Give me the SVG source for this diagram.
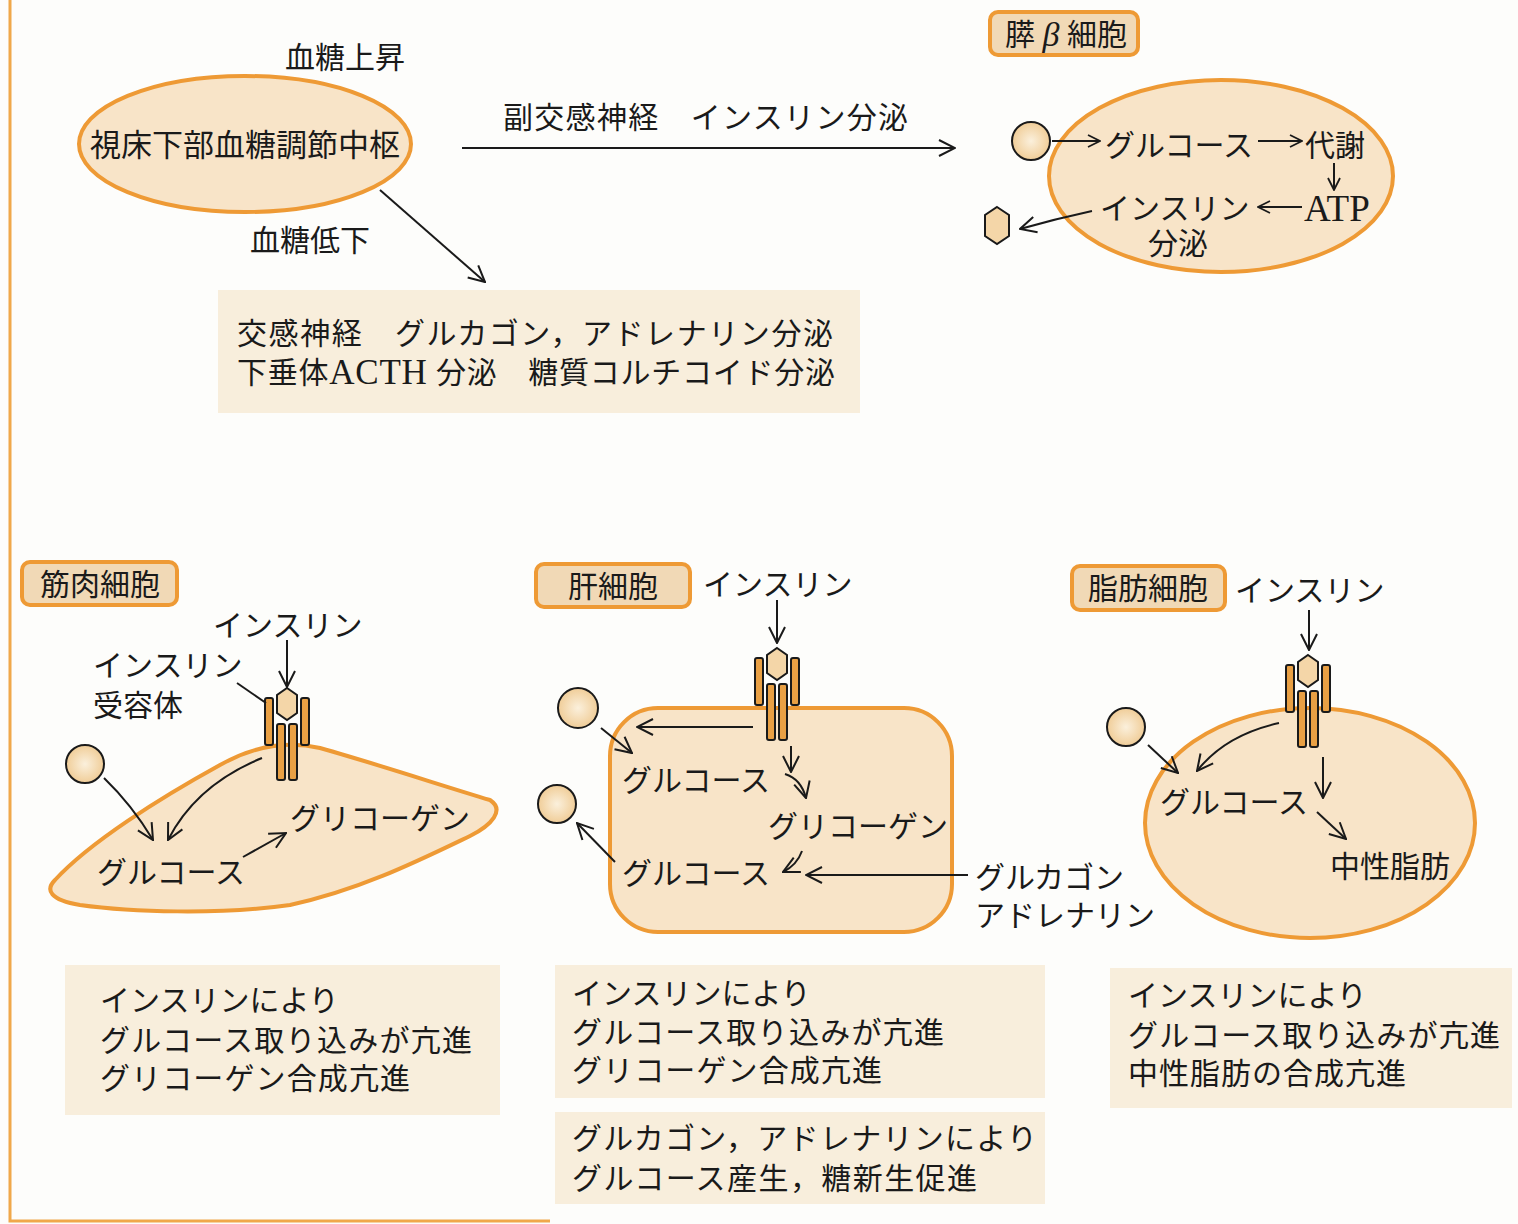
<svg xmlns="http://www.w3.org/2000/svg" width="1518" height="1224" viewBox="0 0 1518 1224">
  <defs>
    <style>
      .t { font-family: "Liberation Serif", "Noto Sans CJK JP", serif; font-size: 30px; fill: #1a1a1a; dominant-baseline: central; }
      .tm { text-anchor: middle; }
      .cell { fill: #F8E4C8; stroke: #EE9A35; stroke-width: 4; }
      .tag { fill: #F1D9B6; stroke: #EE9A35; stroke-width: 4; }
      .note { fill: #F8EEDC; }
      .ln { fill: none; stroke: #1a1a1a; stroke-width: 2; }
      .arr { fill: none; stroke: #1a1a1a; stroke-width: 2; marker-end: url(#ah); }
      .arrs { fill: none; stroke: #1a1a1a; stroke-width: 2; marker-end: url(#ahs); }
      .glc { fill: url(#gl); stroke: #1a1a1a; stroke-width: 2; }
      .ins { fill: #F4D6A8; stroke: #1a1a1a; stroke-width: 2; }
      .bar { fill: #E9A044; stroke: #1a1a1a; stroke-width: 2; }
    </style>
    <radialGradient id="gl" cx="0.5" cy="0.5" r="0.5">
      <stop offset="0" stop-color="#FBF0DC"/>
      <stop offset="1" stop-color="#F0CD98"/>
    </radialGradient>
    <marker id="ah" viewBox="0 0 20 20" refX="19" refY="10" markerWidth="20" markerHeight="20" markerUnits="userSpaceOnUse" orient="auto">
      <path d="M3,2 L19,10 L3,18" fill="none" stroke="#1a1a1a" stroke-width="2"/>
    </marker>
    <marker id="ahs" viewBox="0 0 20 20" refX="19" refY="10" markerWidth="15" markerHeight="15" markerUnits="userSpaceOnUse" orient="auto">
      <path d="M3,2 L19,10 L3,18" fill="none" stroke="#1a1a1a" stroke-width="2.4"/>
    </marker>
    <!-- insulin receptor: hexagon ligand between two outer chains, two inner chains through the membrane -->
    <g id="receptor">
      <rect class="bar" x="-22" y="10" width="8" height="47" rx="2"/>
      <rect class="bar" x="14" y="10" width="8" height="47" rx="2"/>
      <rect class="bar" x="-10" y="36" width="8" height="56" rx="2"/>
      <rect class="bar" x="2" y="36" width="8" height="56" rx="2"/>
      <polygon class="ins" points="0,0 10,7 10,25 0,32 -10,25 -10,7"/>
    </g>
  </defs>

  <rect x="0" y="0" width="1518" height="1224" fill="#FDFDFB"/>
  <!-- page frame -->
  <path d="M10,0 V1221 H550" fill="none" stroke="#F0A84A" stroke-width="3"/>

  <!-- hypothalamus -->
  <g id="hypothalamus">
    <ellipse class="cell" cx="245" cy="144" rx="166" ry="68"/>
    <text class="t tm" x="245" y="145" style="font-size:31px" textLength="310">視床下部血糖調節中枢</text>
  </g>
  <g id="label-rise"><text class="t" x="285" y="57">血糖上昇</text></g>
  <g id="label-fall"><text class="t" x="250" y="240">血糖低下</text></g>
  <g id="label-para"><text class="t" x="503" y="117" textLength="405">副交感神経　インスリン分泌</text></g>

  <g id="sympathetic">
    <rect class="note" x="218" y="290" width="642" height="123"/>
    <text class="t" x="237" y="333" textLength="596">交感神経　グルカゴン，アドレナリン分泌</text>
    <text class="t" x="237" y="372" textLength="598">下垂体<tspan style="font-size:35px">ACTH</tspan> 分泌　糖質コルチコイド分泌</text>
  </g>

  <!-- pancreatic beta cell -->
  <g id="beta-cell">
    <rect class="tag" x="990" y="12" width="148" height="43" rx="8"/>
    <text class="t" x="1005" y="34">膵 <tspan style="font-size:34px;font-style:italic">β</tspan> 細胞</text>
    <ellipse class="cell" cx="1221" cy="176" rx="172" ry="96"/>
    <circle class="glc" cx="1031" cy="141" r="19"/>
    <polygon class="ins" points="997,207 1009,215 1009,236 997,244 985,236 985,215"/>
    <text class="t" x="1105" y="145">グルコース</text>
    <text class="t" x="1305" y="145">代謝</text>
    <text class="t" x="1304" y="208" style="font-size:37px">ATP</text>
    <text class="t" x="1100" y="208">インスリン</text>
    <text class="t" x="1148" y="243">分泌</text>
  </g>

  <!-- muscle cell -->
  <g id="muscle-cell">
    <rect class="tag" x="22" y="562" width="155" height="43" rx="8"/>
    <text class="t tm" x="100" y="584">筋肉細胞</text>
    <path class="cell" d="M55,880 C90,842 160,798 220,765 C250,748 285,740 320,748 C380,765 440,785 490,800 C505,810 492,825 470,836 C420,860 360,890 290,905 C220,915 130,912 80,905 C50,900 45,890 55,880 Z"/>
    <use href="#receptor" x="287" y="688"/>
    <circle class="glc" cx="85" cy="764" r="19"/>
    <text class="t" x="213" y="625">インスリン</text>
    <text class="t" x="93" y="665">インスリン</text>
    <text class="t" x="93" y="705">受容体</text>
    <text class="t" x="97" y="872">グルコース</text>
    <text class="t" x="290" y="818">グリコーゲン</text>
  </g>

  <!-- liver cell -->
  <g id="liver-cell">
    <rect class="tag" x="536" y="564" width="154" height="43" rx="8"/>
    <text class="t tm" x="613" y="586">肝細胞</text>
    <rect class="cell" x="610" y="708" width="342" height="224" rx="48"/>
    <use href="#receptor" x="777" y="648"/>
    <circle class="glc" cx="578" cy="708" r="20"/>
    <circle class="glc" cx="557" cy="804" r="19"/>
    <text class="t" x="703" y="584">インスリン</text>
    <text class="t" x="622" y="780">グルコース</text>
    <text class="t" x="768" y="826">グリコーゲン</text>
    <text class="t" x="622" y="873">グルコース</text>
    <text class="t" x="975" y="877">グルカゴン</text>
    <text class="t" x="975" y="915">アドレナリン</text>
  </g>

  <!-- adipocyte -->
  <g id="fat-cell">
    <rect class="tag" x="1072" y="566" width="153" height="44" rx="8"/>
    <text class="t tm" x="1148" y="588">脂肪細胞</text>
    <ellipse class="cell" cx="1310" cy="823" rx="165" ry="115"/>
    <use href="#receptor" x="1308" y="655"/>
    <circle class="glc" cx="1126" cy="727" r="19"/>
    <text class="t" x="1235" y="590">インスリン</text>
    <text class="t" x="1160" y="802">グルコース</text>
    <text class="t" x="1330" y="866">中性脂肪</text>
  </g>

  <!-- summary notes -->
  <g id="note-muscle">
    <rect class="note" x="65" y="965" width="435" height="150"/>
    <text class="t" x="100" y="1000">インスリンにより</text>
    <text class="t" x="100" y="1040" textLength="372">グルコース取り込みが亢進</text>
    <text class="t" x="100" y="1078" textLength="310">グリコーゲン合成亢進</text>
  </g>
  <g id="note-liver-insulin">
    <rect class="note" x="555" y="965" width="490" height="133"/>
    <text class="t" x="572" y="993">インスリンにより</text>
    <text class="t" x="572" y="1032" textLength="372">グルコース取り込みが亢進</text>
    <text class="t" x="572" y="1070" textLength="310">グリコーゲン合成亢進</text>
  </g>
  <g id="note-liver-glucagon">
    <rect class="note" x="555" y="1112" width="490" height="92"/>
    <text class="t" x="572" y="1138" textLength="465">グルカゴン，アドレナリンにより</text>
    <text class="t" x="572" y="1178" textLength="405">グルコース産生，糖新生促進</text>
  </g>
  <g id="note-fat">
    <rect class="note" x="1110" y="968" width="402" height="140"/>
    <text class="t" x="1128" y="995">インスリンにより</text>
    <text class="t" x="1128" y="1035" textLength="372">グルコース取り込みが亢進</text>
    <text class="t" x="1128" y="1073" textLength="278">中性脂肪の合成亢進</text>
  </g>

  <!-- connectors -->
  <g id="connectors">
    <line class="arr" x1="462" y1="148" x2="955" y2="148"/>
    <line class="arr" x1="380" y1="190" x2="485" y2="282"/>

    <line class="arrs" x1="1052" y1="141" x2="1100" y2="141"/>
    <line class="arrs" x1="1258" y1="141" x2="1302" y2="141"/>
    <line class="arrs" x1="1334" y1="163" x2="1334" y2="190"/>
    <line class="arrs" x1="1302" y1="207" x2="1258" y2="207"/>
    <path class="arr" d="M1092,211 Q1055,219 1020,229"/>

    <line class="arr" x1="287" y1="640" x2="287" y2="687"/>
    <line class="ln" x1="237" y1="683" x2="266" y2="703"/>
    <path class="arr" d="M104,778 Q132,805 153,840"/>
    <path class="arr" d="M262,758 Q196,785 168,840"/>
    <line class="arr" x1="243" y1="857" x2="286" y2="833"/>

    <line class="arr" x1="777" y1="600" x2="777" y2="643"/>
    <line class="arr" x1="601" y1="728" x2="632" y2="753"/>
    <line class="arr" x1="753" y1="727" x2="637" y2="727"/>
    <line class="arr" x1="791" y1="746" x2="791" y2="772"/>
    <path class="arr" d="M785,774 Q801,779 806,798"/>
    <path class="arr" d="M802,851 Q797,865 783,872"/>
    <line class="arr" x1="968" y1="875" x2="806" y2="875"/>
    <line class="arr" x1="615" y1="862" x2="577" y2="823"/>

    <line class="arr" x1="1309" y1="610" x2="1309" y2="650"/>
    <line class="arr" x1="1148" y1="745" x2="1178" y2="773"/>
    <path class="arr" d="M1279,723 Q1225,735 1197,771"/>
    <line class="arr" x1="1323" y1="757" x2="1323" y2="798"/>
    <line class="arr" x1="1317" y1="812" x2="1346" y2="839"/>
  </g>
</svg>
